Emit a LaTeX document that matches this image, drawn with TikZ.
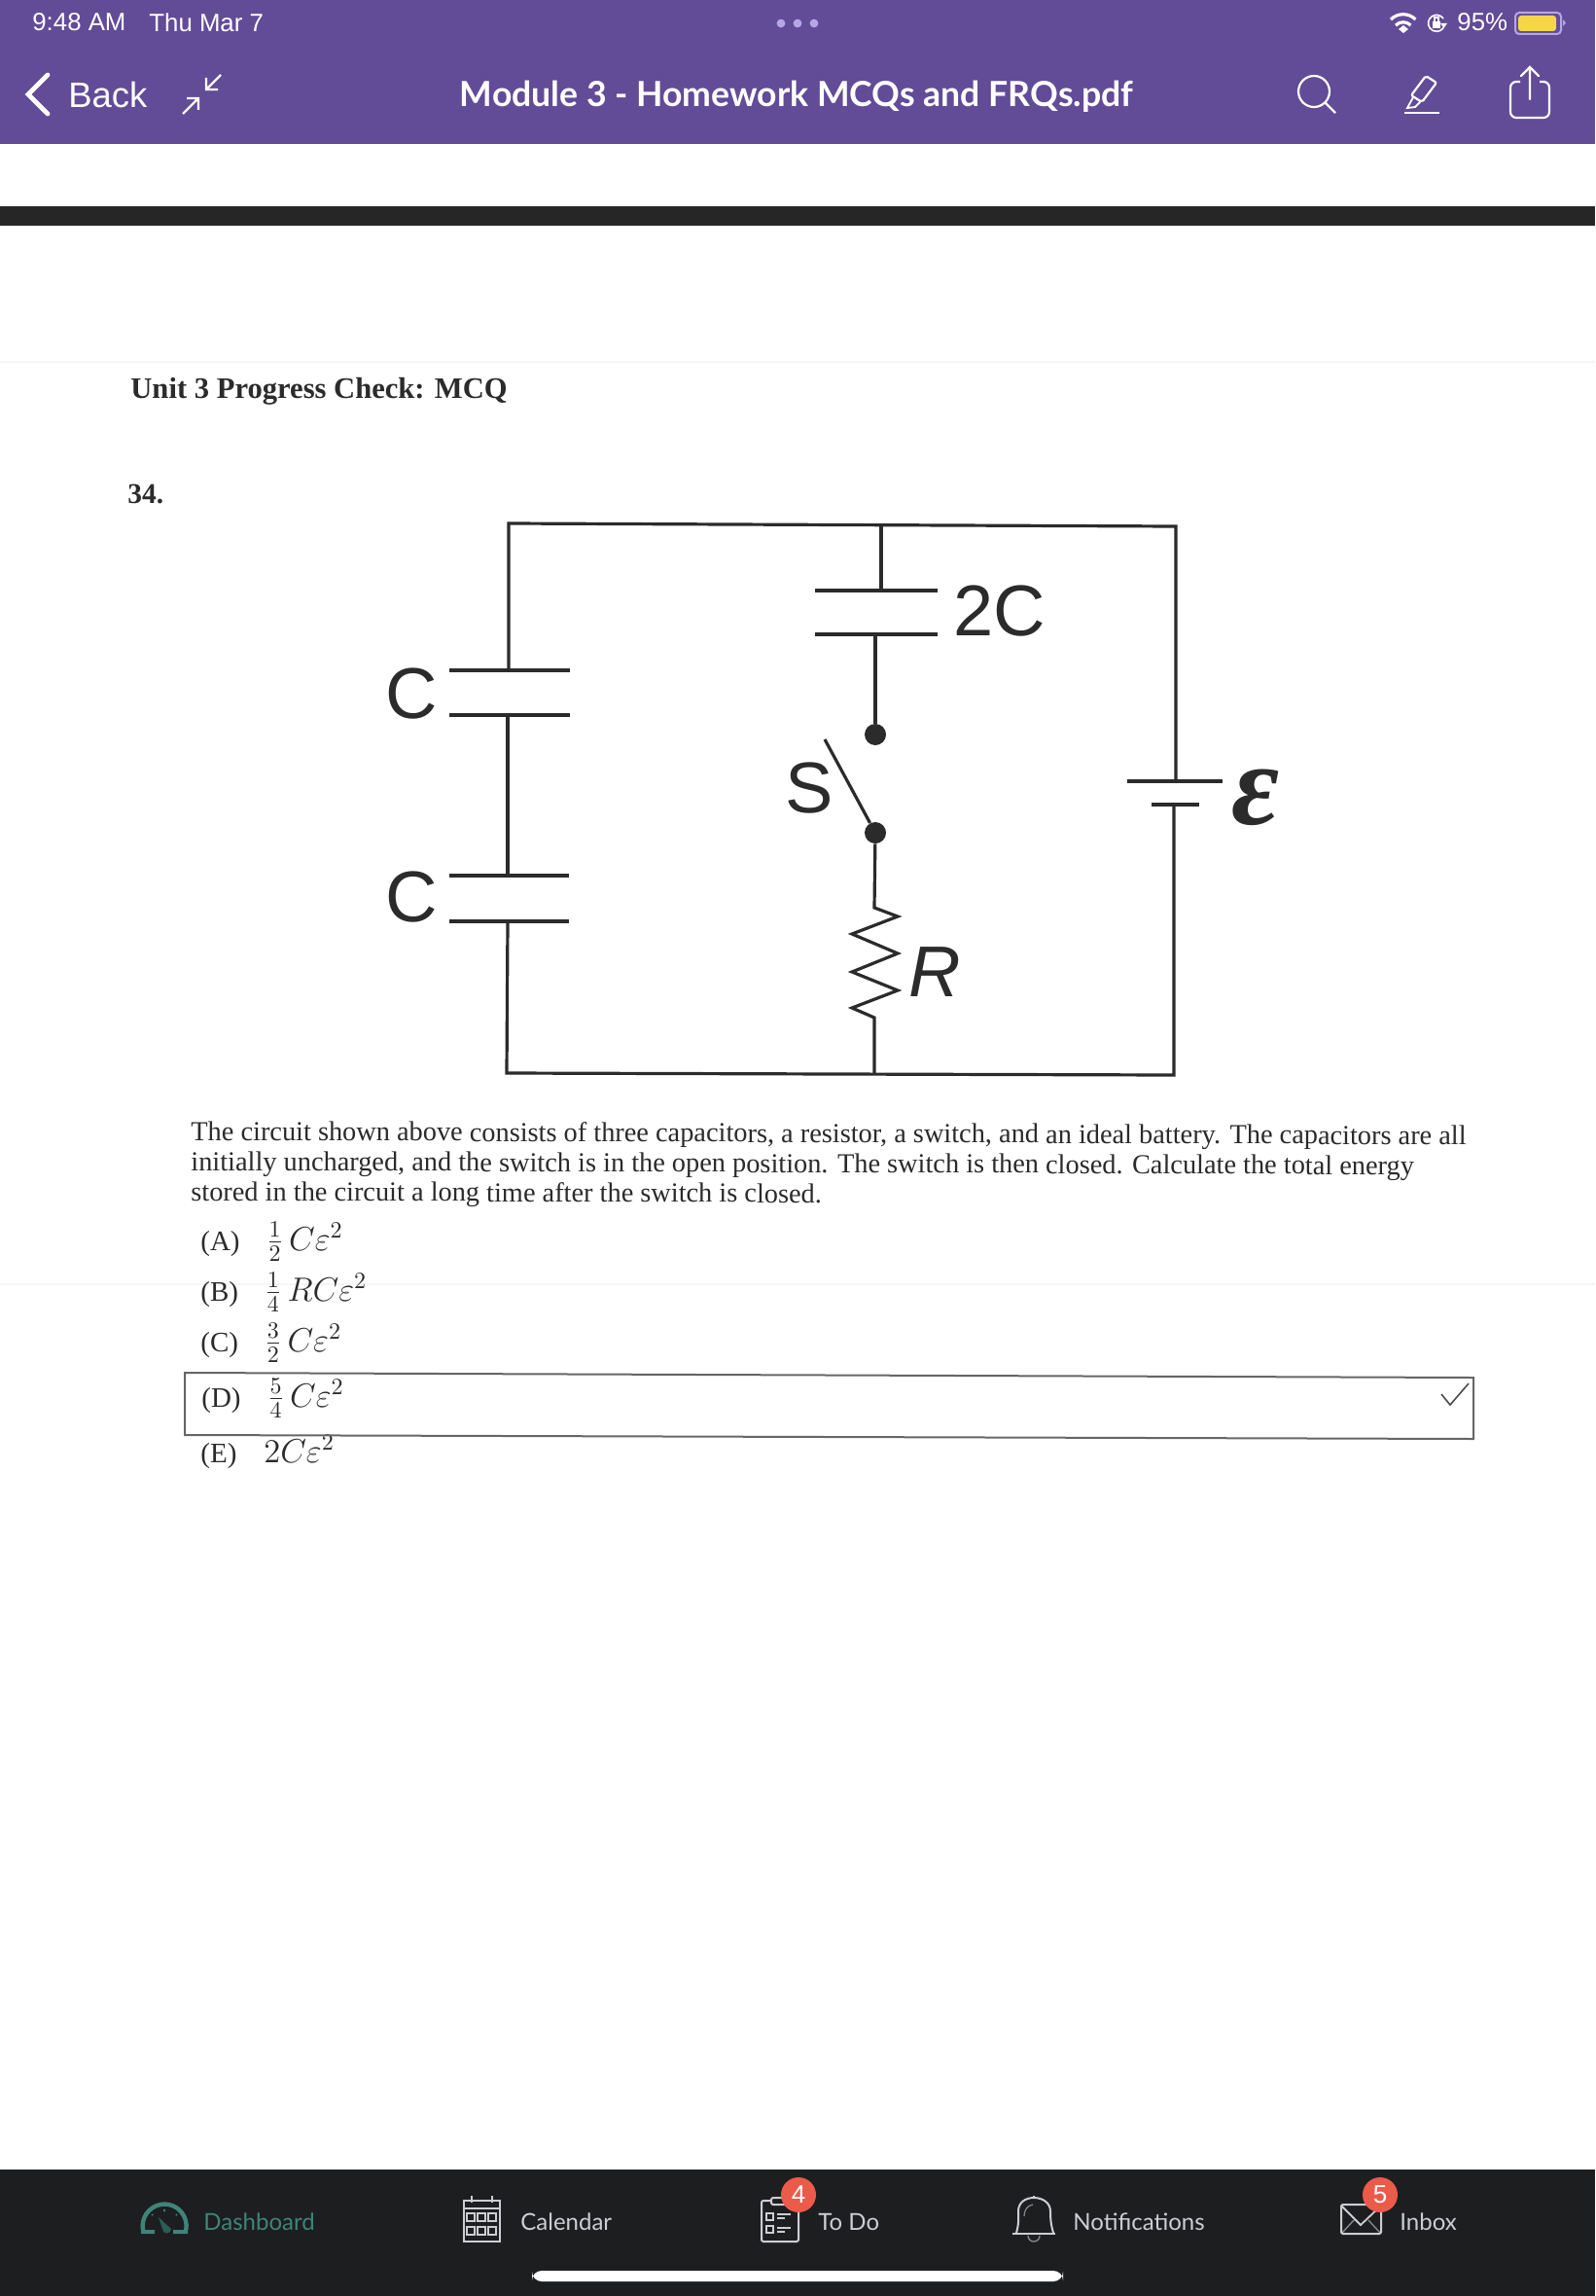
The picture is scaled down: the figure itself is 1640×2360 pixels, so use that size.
\documentclass[tikz,border=0pt]{standalone}
\usepackage{fontspec}
\setmainfont{Liberation Serif}
\newfontfamily\uifont{Lato}
\newfontfamily\statusfont{Liberation Sans}
\definecolor{barpurple}{HTML}{624B97}
\definecolor{bardark}{HTML}{1D1E20}
\definecolor{inkgrey}{HTML}{2B2B2B}
\definecolor{tealtab}{HTML}{3F8478}
\definecolor{tabgrey}{HTML}{CDCED2}
\definecolor{badgered}{HTML}{EC5A4A}
\definecolor{batyellow}{HTML}{F7D548}
\definecolor{dotlilac}{HTML}{B7A6E6}
\newcommand{\optmath}[1]{\scalebox{1.2}{$#1$}}
\tikzset{
  wire/.style={draw=inkgrey,line width=1.6pt},
  icon/.style={draw=white,line width=1.1pt},
  tabicon/.style={draw=tabgrey,line width=1pt},
  cirlabel/.style={text=inkgrey,inner sep=0pt,font=\statusfont\fontsize{37}{40}\selectfont},
  status/.style={text=white,inner sep=0pt,anchor=west,font=\statusfont\fontsize{12.9}{16}\selectfont},
  tab/.style={text=tabgrey,inner sep=0pt,anchor=west,font=\uifont\fontsize{12}{15}\selectfont},
  badge/.style={circle,fill=badgered,text=white,inner sep=0pt,minimum size=18pt,font=\statusfont\fontsize{13}{15}\selectfont},
  parline/.style={text=inkgrey,inner sep=0pt,anchor=base west,rotate=-.2,font=\fontsize{14.17}{18}\selectfont},
  opt/.style={text=inkgrey,inner sep=0pt,anchor=base west,font=\fontsize{14.5}{18}\selectfont}
}
\begin{document}
\begin{tikzpicture}[x=.5pt,y=-.5pt]
  \path[use as bounding box,fill=white] (0,0) rectangle (1640,2360);
  \fill[barpurple] (0,0) rectangle (1640,148);
  \fill[black!85] (0,212) rectangle (1640,232);
  \fill[bardark] (0,2230) rectangle (1640,2360);
  \draw[black!4,line width=.8pt] (0,372) -- (1640,372) (0,1320) -- (1640,1320);

  \node[status] (time) at (33,23) {9:48 AM};
  \node[status] (day) at (153,23) {Thu Mar 7};
  \foreach \x in {803,820,837} \fill[dotlilac] (\x,24) circle (2.2pt);
  \draw[icon,line width=1.6pt] (1430,20) arc (-135:-45:18) (1435,26) arc (-135:-45:11);
  \fill[white] (1438,30) -- (1443,26) -- (1448,30) -- (1443,34) -- cycle;
  \draw[icon,line width=.8pt] (1484,19) arc (-35:-325:8.5);
  \fill[white] (1481,24) -- (1488,24) -- (1484.5,29) -- cycle;
  \fill[white] (1473,22) rectangle (1481,29);
  \draw[icon,line width=.6pt] (1475,22) -- (1475,18) -- (1479,18) -- (1479,22);
  \node[status] (pct) at (1498,23) {95\%};
  \draw[dotlilac,line width=1pt,rounded corners=2pt] (1558,13) rectangle (1605,35);
  \fill[batyellow,rounded corners=1.5pt] (1561,16) rectangle (1600,32);
  \fill[dotlilac] (1607,20) -- (1610,23.5) -- (1607,27) -- cycle;

  \draw[icon,line width=2.4pt,line cap=round] (49,77) -- (29,97) -- (49,117);
  \node[text=white,inner sep=0pt,anchor=west,font=\statusfont\fontsize{18.2}{24}\selectfont] (back) at (70,97) {Back};
  \draw[icon] (188,117) -- (204,101) +(-12,0) -- +(0,0) -- +(0,12);
  \draw[icon] (227,77) -- (212,92) +(12,0) -- +(0,0) -- +(0,-12);
  \node[text=white,inner sep=0pt,font=\uifont\bfseries\fontsize{17.8}{24}\selectfont] (title) at (819,99) {Module 3 - Homework MCQs and FRQs.pdf};
  \draw[icon] (1351,94) circle (16) (1363,106) -- (1373,116);
  \draw[icon,rounded corners=1pt] (1466,78) -- (1477,85) -- (1462,105) -- (1451,98) -- cycle;
  \draw[icon,line width=.9pt] (1453,100) -- (1447,111) -- (1455,110) -- (1460,105);
  \draw[icon] (1444,116) -- (1480,116);
  \draw[icon,rounded corners=3pt] (1563,84) -- (1553,84) -- (1553,121) -- (1593,121) -- (1593,84) -- (1583,84);
  \draw[icon,line cap=round] (1573,102) -- (1573,69) (1564,78) -- (1573,69) -- (1582,78);

  \node[inner sep=0pt,anchor=base west,text=inkgrey,font=\bfseries\fontsize{15.3}{18}\selectfont] (unit) at (134,409) {Unit 3 Progress Check: MCQ};
  \node[inner sep=0pt,anchor=base west,text=inkgrey,font=\bfseries\fontsize{14.7}{18}\selectfont] (qnum) at (131,517) {34.};

  \path (523,538) coordinate (tl) (1209,541) coordinate (tr) (521,1103) coordinate (bl) (1207,1105) coordinate (br)
    (906,539) coordinate (ctop) (899,1104) coordinate (cbot)
    (523,689) coordinate (ca) (522,735) coordinate (cb) (522,900) coordinate (cc) (522,947) coordinate (cd)
    (906,607) coordinate (ce) (900,652) coordinate (cf)
    (1209,803) coordinate (bata) (1207,827) coordinate (batb);
  \node[circle,fill=inkgrey,inner sep=0pt,minimum size=11pt] (swup) at (900,755) {};
  \node[circle,fill=inkgrey,inner sep=0pt,minimum size=11pt] (swlo) at (900,856) {};
  \draw[wire] (ca) -- (tl) -- (tr) -- (bata) (batb) -- (br) -- (bl) -- (cd);
  \draw[wire] (cb) -- (cc) (ctop) -- (ce) (cf) -- (swup);
  \draw[wire] (462,689) -- (586,689) (462,735) -- (586,735) (462,900) -- (585,900) (462,947) -- (585,947);
  \draw[wire] (838,607) -- (964,607) (838,652) -- (964,652);
  \draw[wire] (1159,803) -- (1257,803) (1184,827) -- (1233,827);
  \draw[wire] (848,760) -- (swlo);
  \draw[wire] (swlo) -- (899,933) -- (923,942) -- (876,960) -- (923,980) -- (876,999) -- (923,1018) -- (876,1036) -- (899,1046) -- (cbot);
  \node[cirlabel] (lab2c) at (1028,628) {2C};
  \node[cirlabel] (labc1) at (423,713) {C};
  \node[cirlabel] (labc2) at (423,922) {C};
  \node[cirlabel] (labs) at (832,810) {S};
  \node[cirlabel,font=\statusfont\itshape\fontsize{37}{40}\selectfont] (labr) at (961,999) {R};
  \node[text=inkgrey,inner sep=0pt,font=\bfseries\itshape\fontsize{60}{66}\selectfont] (labe) at (1291,820) {ε};

  \node[parline] (par1) at (196,1172) {The circuit shown above consists of three capacitors, a resistor, a switch, and an ideal battery. The capacitors are all};
  \node[parline] (par2) at (196,1203) {initially uncharged, and the switch is in the open position. The switch is then closed. Calculate the total energy};
  \node[parline] (par3) at (196,1234) {stored in the circuit a long time after the switch is closed.};
  \node[opt] (opta) at (206,1285) {(A)\hspace{13.5pt}\optmath{\frac{1}{2}\,C\varepsilon^2}};
  \node[opt] (optb) at (206,1337) {(B)\hspace{13.5pt}\optmath{\frac{1}{4}\,RC\varepsilon^2}};
  \node[opt] (optc) at (206,1389) {(C)\hspace{13.5pt}\optmath{\frac{3}{2}\,C\varepsilon^2}};
  \node[opt] (optd) at (207,1446) {(D)\hspace{13.5pt}\optmath{\frac{5}{4}\,C\varepsilon^2}};
  \node[opt] (opte) at (206,1503) {(E)\hspace{14pt}\optmath{2C\varepsilon^2}};
  \draw[black!60,line width=1pt] (190,1411) -- (1515,1416) -- (1515,1479) -- (190,1475) -- cycle;
  \draw[black!70,line width=.8pt] (1482,1433) -- (1491,1444) -- (1510,1422);

  \draw[tealtab,line width=2.2pt] (147,2292) arc (170:370:22.5);
  \fill[tealtab] (145,2292) rectangle (159,2296) (178,2292) rectangle (193,2296);
  \draw[tealtab,line width=.8pt] (156,2276) -- (157,2277) (169,2271) -- (169,2273) (182,2276) -- (181,2277);
  \fill[tealtab!70!black] (163,2279) -- (176,2291) arc (0:180:4.5) -- cycle;
  \node[tab,text=tealtab] (dash) at (209,2284) {Dashboard};
  \draw[tabicon] (477,2262) rectangle (514,2304) (477,2270) -- (514,2270);
  \draw[tabicon] (485,2257) -- (485,2264) (506,2257) -- (506,2264);
  \foreach \x in {484,495,506} \foreach \y in {2279,2293} \draw[tabicon,line width=.7pt] (\x-4,\y-4) rectangle (\x+4,\y+4);
  \node[tab] (cal) at (535,2284) {Calendar};
  \draw[tabicon,rounded corners=1pt] (783,2262) rectangle (821,2304);
  \draw[tabicon,fill=bardark,rounded corners=1pt] (793,2259) rectangle (810,2266);
  \draw[tabicon,line width=.7pt] (788,2275) rectangle (795,2282) (788,2288) rectangle (795,2295);
  \draw[tabicon,line width=.7pt] (799,2276) -- (813,2276) (799,2280) -- (807,2280) (799,2290) -- (813,2290) (799,2294) -- (807,2294);
  \node[tab] (todo) at (841,2284) {To Do};
  \node[badge] (badgefour) at (821,2256) {4};
  \draw[tabicon] (1045,2295) .. controls (1048,2285) and (1047,2278) .. (1047,2273) .. controls (1047,2264) and (1054,2259) .. (1063,2259) .. controls (1072,2259) and (1080,2264) .. (1080,2273) .. controls (1080,2278) and (1080,2285) .. (1083,2295);
  \draw[tabicon,line width=.6pt] (1063,2257) -- (1063,2259);
  \draw[tabicon,line width=.6pt,opacity=.6] (1053,2278) .. controls (1053,2272) and (1056,2267) .. (1062,2266);
  \draw[tabicon,line width=1.2pt] (1041,2296) -- (1085,2296);
  \draw[tabicon,line width=.7pt,opacity=.6] (1057,2298) arc (180:0:6);
  \node[tab] (notif) at (1103,2284) {Notifications};
  \draw[tabicon,line width=.7pt,opacity=.6] (1380,2295) -- (1392,2282) (1419,2295) -- (1407,2282);
  \draw[tabicon,rounded corners=1pt] (1379,2266) rectangle (1420,2296);
  \draw[tabicon,line width=.9pt] (1379,2267) -- (1399,2287) -- (1420,2267);
  \node[tab] (inbox) at (1439,2284) {Inbox};
  \node[badge] (badgefive) at (1419,2256) {5};
  \fill[white,rounded corners=5pt] (547,2334) rectangle (1093,2345);
\end{tikzpicture}
\end{document}
